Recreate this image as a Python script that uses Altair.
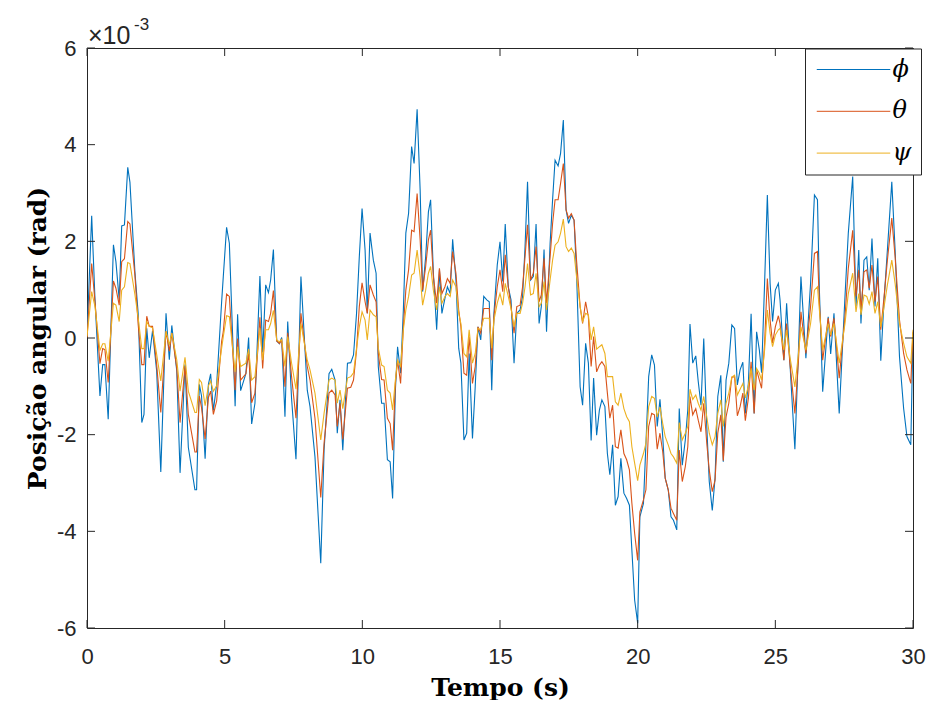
import altair as alt
import pandas as pd

# ---------------- data (values in units of 1e-3 rad) ----------------
t = [0.00, 0.17, 0.29, 0.47, 0.57, 0.65, 0.77, 0.96, 1.05, 1.17, 1.26, 1.36, 1.48, 1.56, 1.74, 1.86, 1.99, 2.07, 2.17, 2.26,
     2.38, 2.53, 2.68, 2.87, 2.99, 3.08, 3.26, 3.38, 3.56, 3.68, 3.92, 3.98, 4.08, 4.16, 4.29, 4.41, 4.49, 4.59, 4.71, 4.89,
     4.95, 5.07, 5.17, 5.38, 5.47, 5.58, 5.77, 5.87, 5.98, 6.10, 6.28, 6.38, 6.49, 6.59, 6.67, 6.77, 6.89, 6.99, 7.07, 7.19,
     7.29, 7.43, 7.59, 7.77, 8.00, 8.10, 8.28, 8.49, 8.61, 8.79, 8.89, 9.01, 9.09, 9.19, 9.29, 9.46, 9.58, 9.68, 9.79, 9.89,
     9.99, 10.10, 10.18, 10.28, 10.40, 10.50, 10.58, 10.70, 10.79, 10.91, 11.01, 11.10, 11.20, 11.28, 11.39, 11.49, 11.58, 11.68, 11.79, 11.88,
     11.99, 12.10, 12.19, 12.30, 12.40, 12.48, 12.58, 12.70, 12.80, 12.89, 13.00, 13.09, 13.19, 13.28, 13.40, 13.50, 13.58, 13.69, 13.79, 13.88,
     14.00, 14.10, 14.20, 14.30, 14.41, 14.52, 14.61, 14.70, 14.78, 14.90,
     15.00, 15.10, 15.19, 15.30, 15.40, 15.51, 15.61, 15.73, 15.82, 15.91, 16.00, 16.11, 16.21, 16.31, 16.42, 16.50, 16.60, 16.69, 16.82, 16.91,
     17.00, 17.11, 17.20, 17.30, 17.40, 17.49, 17.59, 17.69, 17.78, 17.91, 18.00, 18.11, 18.21, 18.31, 18.40, 18.51, 18.61, 18.70, 18.81, 18.90,
     18.99, 19.09, 19.19, 19.29, 19.39, 19.50, 19.60, 19.70, 19.79, 19.89, 20.00,
     20.08, 20.21, 20.30, 20.40, 20.51, 20.61, 20.71, 20.81, 20.91, 21.00, 21.11, 21.21, 21.30, 21.42, 21.51, 21.62, 21.73, 21.82, 21.90, 22.00,
     22.11, 22.20, 22.30, 22.40, 22.51, 22.60, 22.71, 22.81, 22.91, 23.02, 23.11, 23.21, 23.31, 23.42, 23.52, 23.62, 23.72, 23.82, 23.91, 24.02,
     24.12, 24.23, 24.32, 24.42, 24.50, 24.61, 24.71, 24.81, 24.90, 25.00, 25.11,
     25.17, 25.31, 25.41, 25.53, 25.71, 25.84, 25.93, 26.11, 26.28, 26.42, 26.53, 26.60, 26.72, 26.92, 27.01, 27.13, 27.32, 27.53, 27.65, 27.81,
     27.93, 28.03, 28.11, 28.22, 28.32, 28.41, 28.51, 28.62, 28.72, 28.83, 28.95, 29.07, 29.23, 29.35, 29.51, 29.66, 29.78, 29.92, 30.00]

phi = [0.03, 2.53, 0.8, -1.2, -0.55, -0.55, -1.68, 1.93, 1.58, 0.79, 2.32, 2.34, 3.53, 3.22, 1.37, 0.5, -1.75, -1.58, 0.2, -0.41,
       0.15, -0.68, -2.77, 0.51, -0.45, 0.26, -0.68, -2.79, -0.55, -2.26, -3.14, -3.14, -0.96, -1.2, -2.5, -0.96, -0.74, -1.5, -0.96, 0.75,
       1.27, 2.29, 1.96, -1.41, 0.49, -1.09, -0.74, 0.01, -1.78, -1.35, 1.28, -0.3, 1.1, 0.94, 1.2, 1.83, -0.06, -0.12, 0.01, -1.63,
       0.34, -1.25, -2.51, 1.27, -1.08, -1.42, -2.46, -4.66, -2.32, -0.74, -0.65, -0.87, -1.97, -1.28, -2.32, -0.52, -0.51, -0.35, 0.51, 1.68,
       2.68, 1.82, 0.51, 2.17, 1.61, 1.34, -0.59, -1.35, -1.35, -2.52, -2.56, -3.32, -1.08, -0.18, -0.73, 0.58, 2.17, 2.58, 3.96, 3.61,
       4.73, 3.06, 0.96, 1.68, 2.61, 2.86, 1.34, 0.17, 1.41, 0.51, 0.82, 1.06, 0.92, 2.04, 1.2, -0.21, -0.52, -2.11, -1.97, -0.32,
       -2.08, -1.01, 0.23, -0.04, 0.86, 0.79, 0.75, -1.08, 0.51, 1.51,
       1.99, 1.17, 2.36, 1.06, 0.79, -0.52, 0.51, 0.58, 0.86, 1.89, 3.23, 1.2, 1.27, 2.36, 0.3, 0.65, 1.83, 0.13, 1.96, 2.86,
       3.68, 3.56, 3.82, 4.51, 2.65, 2.37, 2.54, 2.44, 1.34, -1.01, -1.39, -0.11, -0.52, -2.12, -0.83, -2.01, -1.49, -1.28, -1.42, -2.39,
       -2.83, -2.21, -3.46, -3.28, -2.49, -3.21, -3.32, -3.46, -4.39, -5.42, -5.9,
       -3.7, -3.42, -2.2, -0.8, -0.35, -0.56, -1.83, -1.27, -2.04, -2.9, -3.14, -3.7, -3.77, -3.97, -1.46, -2.63, -2.11, -1.49, 0.29, -0.52,
       -0.37, -0.9, -1.39, -0.01, -1.83, -2.97, -3.57, -2.9, -1.21, -0.77, -2.56, -0.87, -0.52, 0.27, 0.2, -0.97, -0.66, -0.5, -1.56, -0.94,
       0.5, -1.56, 0.13, -0.25, -0.72, 1.13, 2.96, 1.13, 0.34, 0.99, 1.13,
       0.79, -0.46, 0.72, -0.52, -2.3, -0.25, 1.27, -0.42, 1.13, 2.96, 2.86, 0.99, -1.11, 0.44, -0.33, 0.51, -1.56, 0.86, 2.17, 3.34,
       0.65, 1.82, 0.3, 1.61, 1.68, 0.99, 2.06, 0.65, 1.65, -0.47, 0.79, 1.82, 3.23, 1.82, -0.39, -1.46, -2.04, -2.21, 0.1]

theta = [0.0, 1.54, 0.75, -0.53, -0.22, -0.24, -0.92, 1.18, 1.03, 0.68, 1.58, 1.64, 2.41, 2.36, 1.3, 0.27, -0.55, -0.55, 0.45, 0.24,
         0.24, -0.55, -1.54, 0.14, -0.27, 0.1, -0.62, -1.75, -0.58, -1.58, -2.36, -2.36, -1.2, -1.44, -2.09, -1.23, -1.1, -1.58, -1.3, -0.07,
         0.13, 0.91, 0.86, -1.08, -0.01, -0.87, -0.74, -0.32, -1.34, -1.14, 0.43, -0.63, 0.37, 0.34, 0.51, 0.98, -0.06, -0.11, -0.04, -1.01,
         0.11, -0.8, -1.66, 0.51, -0.59, -0.87, -1.66, -3.3, -2.18, -1.14, -1.08, -1.18, -1.83, -1.35, -2.1, -1.04, -1.02, -0.87, -0.25, 0.65,
         1.14, 0.75, 0.51, 1.1, 0.89, 0.75, -0.32, -0.86, -0.87, -1.66, -1.77, -2.32, -0.94, -0.46, -0.94, 0.23, 0.99, 1.41, 2.23, 2.2,
         2.99, 2.03, 0.99, 1.48, 2.03, 2.23, 1.27, 0.72, 1.44, 0.92, 1.06, 1.23, 1.13, 1.79, 1.34, 0.58, 0.23, -0.73, -0.77, 0.03,
         -0.94, -0.59, 0.23, 0.1, 0.61, 0.61, 0.61, -0.46, 0.44, 1.06,
         1.41, 0.96, 1.72, 1.06, 0.65, 0.1, 0.65, 0.68, 1.06, 1.68, 2.34, 1.2, 1.34, 1.89, 0.75, 0.89, 1.65, 0.72, 1.68, 2.37,
         2.86, 2.86, 3.2, 3.61, 2.65, 2.48, 2.57, 2.44, 1.61, 0.65, 0.3, 0.75, 0.44, -0.59, 0.03, -0.7, -0.56, -0.49, -0.59, -1.14,
         -1.66, -1.39, -2.25, -2.28, -1.9, -2.39, -2.52, -2.73, -3.42, -4.04, -4.6,
         -3.6, -3.35, -3.14, -1.83, -1.56, -1.59, -2.3, -1.97, -2.35, -2.9, -3.14, -3.52, -3.63, -3.77, -2.32, -2.97, -2.66, -2.25, -1.21, -1.59,
         -1.46, -1.7, -1.94, -1.35, -2.18, -2.73, -3.18, -2.94, -1.97, -1.59, -2.54, -1.63, -1.35, -0.81, -0.8, -1.61, -1.42, -1.14, -1.71, -1.25,
         -0.49, -1.56, -0.66, -0.87, -1.04, -0.11, 1.23, 0.37, -0.1, 0.23, 0.46,
         0.3, -0.46, 0.3, -0.52, -1.56, -0.46, 0.54, -0.32, 0.65, 1.75, 1.79, 0.72, -0.46, 0.41, 0.03, 0.41, -0.83, 0.44, 1.44, 2.23,
         0.86, 1.41, 0.58, 1.37, 1.41, 1.03, 1.51, 0.75, 1.27, 0.17, 0.86, 1.61, 2.48, 1.68, 0.37, -0.32, -0.66, -0.94, 0.13]

psi = [0.03, 0.96, 0.65, -0.26, -0.12, -0.12, -0.48, 0.72, 0.68, 0.34, 0.99, 1.06, 1.56, 1.54, 0.9, 0.41, -0.22, -0.22, 0.34, 0.24,
       0.21, -0.34, -0.89, 0.14, -0.14, 0.1, -0.45, -1.1, -0.4, -1.1, -1.54, -1.54, -0.86, -0.92, -1.4, -0.99, -0.89, -1.1, -0.99, -0.21,
       0.03, 0.46, 0.44, -0.7, -0.18, -0.59, -0.52, -0.23, -0.87, -0.8, 0.2, -0.46, 0.17, 0.17, 0.3, 0.57, -0.04, -0.08, -0.03, -0.59,
       0.03, -0.52, -1.06, 0.3, -0.46, -0.66, -1.14, -2.11, -1.56, -0.87, -0.83, -0.87, -1.35, -1.08, -1.46, -0.83, -0.8, -0.72, -0.21, 0.23,
       0.54, 0.37, -0.04, 0.58, 0.48, 0.44, -0.21, -0.56, -0.59, -1.08, -1.14, -1.49, -0.87, -0.46, -0.59, 0.17, 0.58, 0.86, 1.3, 1.34,
       1.82, 1.27, 0.68, 0.99, 1.34, 1.48, 0.99, 0.58, 1.06, 0.72, 0.86, 0.92, 0.86, 1.2, 1.06, 0.51, 0.3, -0.32, -0.39, 0.17,
       -0.52, -0.32, 0.2, 0.17, 0.41, 0.41, 0.41, -0.21, 0.37, 0.72,
       0.92, 0.68, 1.13, 0.86, 0.61, 0.23, 0.51, 0.51, 0.72, 1.06, 1.54, 0.89, 0.92, 1.34, 0.65, 0.72, 1.17, 0.58, 1.2, 1.61,
       1.92, 1.99, 2.17, 2.46, 1.89, 1.79, 1.86, 1.75, 1.27, 0.65, 0.34, 0.51, 0.48, -0.04, 0.23, -0.23, -0.18, -0.14, -0.32, -0.8,
       -0.8, -0.8, -1.32, -1.39, -1.14, -1.46, -1.63, -1.73, -2.25, -2.59, -2.95,
       -2.63, -2.39, -2.18, -1.42, -1.21, -1.25, -1.63, -1.43, -1.77, -2.04, -2.21, -2.39, -2.46, -2.59, -1.75, -2.11, -1.97, -1.83, -1.06, -1.27,
       -1.18, -1.35, -1.49, -1.21, -1.63, -1.97, -2.21, -2.04, -1.56, -1.28, -1.83, -1.35, -1.14, -0.81, -0.77, -1.18, -1.06, -0.94, -1.24, -0.99,
       -0.63, -1.08, -0.63, -0.73, -0.87, -0.25, 0.58, 0.1, -0.18, 0.06, 0.17,
       0.2, -0.25, 0.17, -0.39, -1.01, -0.32, 0.23, -0.25, 0.3, 0.99, 1.06, 0.58, -0.25, 0.3, 0.06, 0.3, -0.52, 0.3, 0.92, 1.34,
       0.54, 0.92, 0.48, 0.89, 0.86, 0.7, 0.96, 0.51, 0.75, 0.23, 0.65, 1.1, 1.61, 1.13, 0.3, -0.11, -0.39, -0.52, 0.17]

series_names = ["\u03d5", "\u03b8", "\u03c8"]   # phi, theta, psi
series_colors = ["#0072BD", "#D95319", "#EDB120"]
x_ticks = [0, 5, 10, 15, 20, 25, 30]
y_ticks = [-6, -4, -2, 0, 2, 4, 6]
exp_base = ["\u00d710"]
exp_power = ["-3"]
x_title = "Tempo (s)"
y_title = "Posição angular (rad)"

# ---------------- build tables ----------------
rows = []
for name, vals in zip(series_names, [phi, theta, psi]):
    for ti, v in zip(t, vals):
        rows.append({"t": ti, "v": v, "s": name})
df = pd.DataFrame(rows)
xt = pd.DataFrame({"t": x_ticks})
yt = pd.DataFrame({"v": y_ticks})

W, H = 826, 580
AX = "#262626"
TL = 8

xscale = alt.Scale(domain=[0, 30], nice=False, zero=False)
yscale = alt.Scale(domain=[-6, 6], nice=False, zero=False)

lines = alt.Chart(df).mark_line(strokeWidth=1.1, clip=True).encode(
    x=alt.X("t:Q", scale=xscale, title=x_title,
            axis=alt.Axis(values=x_ticks, labelExpr="datum.value + ''")),
    y=alt.Y("v:Q", scale=yscale, title=y_title,
            axis=alt.Axis(values=y_ticks, labelExpr="datum.value + ''")),
    color=alt.Color("s:N", scale=alt.Scale(domain=series_names, range=series_colors),
                    legend=alt.Legend(
                        title=None, orient="none", legendX=718, legendY=0.5,
                        symbolType="M-5,0H5", symbolSize=216, symbolStrokeWidth=1,
                        symbolOffset=27.5, labelOffset=27,
                        labelFont="DejaVu Serif", labelFontStyle="italic", labelFontSize=24,
                        labelColor="black", rowPadding=17.8, padding=9,
                        strokeColor=AX, fillColor="white")),
)

xbot = alt.Chart(xt).mark_rule(color=AX, strokeWidth=1).encode(
    x=alt.X("t:Q", scale=xscale), y=alt.value(H), y2=alt.value(H - TL))
xtop = alt.Chart(xt).mark_rule(color=AX, strokeWidth=1).encode(
    x=alt.X("t:Q", scale=xscale), y=alt.value(0), y2=alt.value(TL))
yleft = alt.Chart(yt).mark_rule(color=AX, strokeWidth=1).encode(
    y=alt.Y("v:Q", scale=yscale), x=alt.value(0), x2=alt.value(TL))
yright = alt.Chart(yt).mark_rule(color=AX, strokeWidth=1).encode(
    y=alt.Y("v:Q", scale=yscale), x=alt.value(W), x2=alt.value(W - TL))

exp1 = alt.Chart(pd.DataFrame({"txt": exp_base})).mark_text(
    font="Liberation Sans", fontSize=25, color=AX, align="left", baseline="alphabetic"
).encode(text="txt:N", x=alt.value(1), y=alt.value(-4))
exp2 = alt.Chart(pd.DataFrame({"txt": exp_power})).mark_text(
    font="Liberation Sans", fontSize=17, color=AX, align="left", baseline="alphabetic"
).encode(text="txt:N", x=alt.value(47), y=alt.value(-18))

chart = alt.layer(lines, xbot, xtop, yleft, yright, exp1, exp2).properties(
    width=W, height=H,
    padding={"left": 79, "top": 40, "right": 13, "bottom": 72},
    autosize=alt.AutoSizeParams(type="none"),
).configure_view(
    stroke=AX, strokeWidth=1
).configure_axis(
    domain=False, ticks=False, grid=False,
    labelFont="Liberation Sans", labelFontSize=22, labelColor=AX,
    labelFlush=False, labelOverlap=False,
    titleFont="DejaVu Serif", titleFontWeight="bold", titleFontSize=25, titleColor="black",
).configure_axisX(
    labelPadding=18, titlePadding=8
).configure_axisY(
    labelPadding=11, titlePadding=6
)

chart.save("out.html", embed_options={"renderer": "svg", "actions": False})
